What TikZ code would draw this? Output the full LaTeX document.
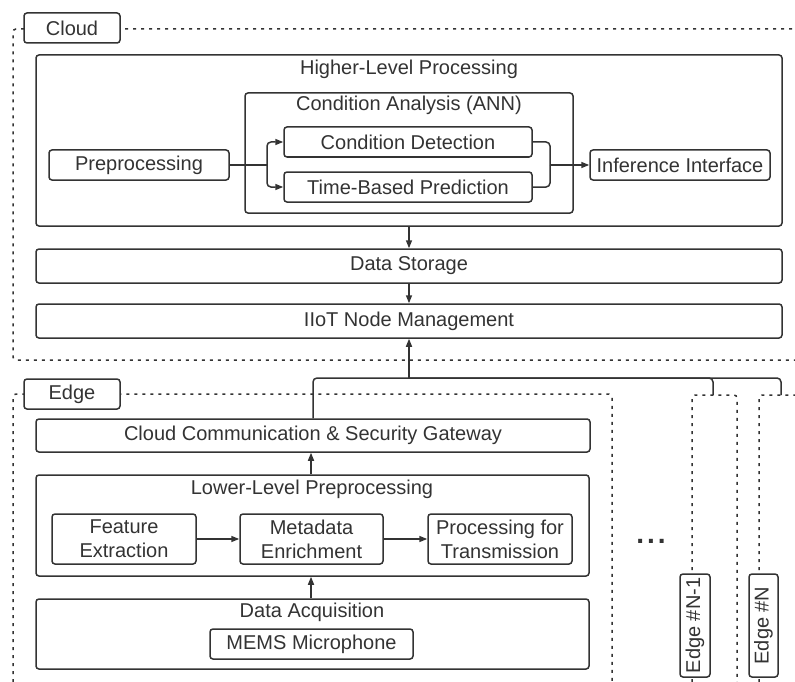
\documentclass[tikz,border=0pt]{standalone}
\usepackage{fontspec}
\setmainfont{Liberation Sans}
\usetikzlibrary{arrows.meta}
\definecolor{ink}{HTML}{333333}
\begin{document}
\begin{tikzpicture}[x=1pt,y=-1pt,
  every node/.style={text=ink, font=\fontsize{20}{24}\selectfont},
  box/.style={draw=ink, line width=1.5pt, rounded corners=3pt, fill=white, inner sep=0pt, align=center},
  title/.style={inner sep=0pt, anchor=center},
  region/.style={draw=ink, line width=1.5pt, dash pattern=on 3pt off 5pt, rounded corners=3pt},
  conn/.style={draw=ink, line width=1.5pt, rounded corners=4pt},
  arr/.style={conn, -{Triangle[length=8pt,width=6pt]}}]
\clip (0,0) rectangle (795,682);
\fill[white] (0,0) rectangle (795,682);

% regions
\draw[region] (800,29) -- (13,29) -- (13,360) -- (800,360);
\draw[region] (13,690) -- (13,394) -- (612,394) -- (612,690);
\draw[region] (692,690) -- (692,395) -- (737,395) -- (737,690);
\draw[region] (759,690) -- (759,395) -- (800,395);

% region labels
\node[box, minimum width=96pt, minimum height=30pt] (cloudlbl) at (72,28) {Cloud};
\node[box, minimum width=96pt, minimum height=30pt] (edgelbl) at (72,394) {Edge};

% cloud boxes
\node[box, minimum width=746pt, minimum height=171pt] (hlp) at (409,140.5) {};
\node[title] (hlpt) at (409,69) {Higher-Level Processing};
\node[box, minimum width=328pt, minimum height=120pt] (ca) at (409,153) {};
\node[title] (cat) at (409,105) {Condition Analysis (ANN)};
\node[box, minimum width=248pt, minimum height=30pt] (cd) at (408,142) {Condition Detection};
\node[box, minimum width=248pt, minimum height=30pt] (tbp) at (408,187) {Time-Based Prediction};
\node[box, minimum width=180pt, minimum height=30pt] (pre) at (139,165) {Preprocessing};
\node[box, minimum width=180pt, minimum height=30pt] (inf) at (680,165) {Inference Interface};
\node[box, minimum width=746pt, minimum height=34pt] (ds) at (409,266) {Data Storage};
\node[box, minimum width=746pt, minimum height=34pt] (iiot) at (409,321) {IIoT Node Management};

% edge boxes
\node[box, minimum width=554pt, minimum height=33pt] (gw) at (313,435.5) {Cloud Communication \& Security Gateway};
\node[box, minimum width=553pt, minimum height=101pt] (llp) at (312.5,525.5) {};
\node[title] (llpt) at (312,489) {Lower-Level Preprocessing};
\node[box, minimum width=144pt, minimum height=50pt] (fe) at (124,539) {Feature\\Extraction};
\node[box, minimum width=143pt, minimum height=50pt] (me) at (311.5,539) {Metadata\\Enrichment};
\node[box, minimum width=144pt, minimum height=50pt] (pt) at (500,539) {Processing for\\Transmission};
\node[box, minimum width=553pt, minimum height=70pt] (da) at (312.5,634) {};
\node[title] (dat) at (312,612) {Data Acquisition};
\node[box, minimum width=203pt, minimum height=30pt] (mems) at (311.5,644) {MEMS Microphone};

% other edges
\node[box, rotate=90, minimum width=103pt, minimum height=30pt] (en1) at (695,625.5) {Edge \#N-1};
\node[box, rotate=90, minimum width=103pt, minimum height=29pt] (en) at (763.5,625.5) {Edge \#N};
\node[inner sep=0pt, font=\fontsize{28}{28}\selectfont\bfseries] (dots) at (651,541) {.\kern3pt.\kern3pt.};

% connectors in cloud
\coordinate (split1) at (267,165);
\coordinate (join1) at (550,165);
\draw[conn] (pre.east) -- (split1);
\draw[arr] (split1) |- (cd.west);
\draw[arr] (split1) |- (tbp.west);
\draw[conn] (cd.east) -| (join1);
\draw[conn] (tbp.east) -| (join1);
\draw[arr] (join1) -- (inf.west);
\draw[arr] (hlp.south) -- (ds.north);
\draw[arr] (ds.south) -- (iiot.north);

% bus from edges to cloud
\coordinate (bus) at (409,378);
\coordinate (en1top) at (713,395);
\coordinate (entop) at (781,395);
\draw[conn] (gw.north) |- (bus);
\draw[conn] (en1top) |- (bus);
\draw[conn] (entop) |- (bus);
\draw[arr] (bus) -- (iiot.south);

% connectors in edge
\draw[arr] (fe.east) -- (me.west);
\draw[arr] (me.east) -- (pt.west);
\draw[arr] (llp.north -| 311,0) -- (gw.south -| 311,0);
\draw[arr] (da.north -| 311,0) -- (llp.south -| 311,0);
\end{tikzpicture}
\end{document}
